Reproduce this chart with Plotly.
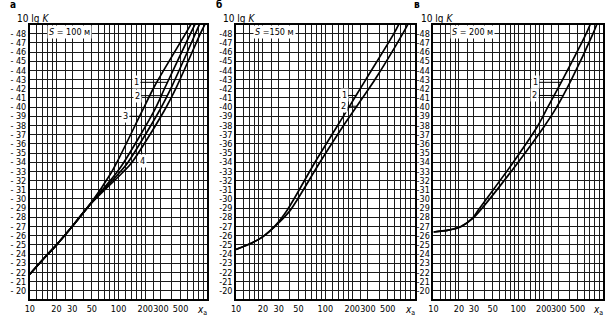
import numpy as np
import plotly.graph_objects as go

# ---------------- data ----------------
# panel а, S = 100 м : four curves (x_a, 10 lg K)
a1_x = [10, 15, 20, 30, 46.8, 94, 115, 249, 340, 646, 750]
a1_y = [21.8, 23.7, 25.0, 27.0, 29.3, 32.8, 34.0, 39.5, 42.3, 48.0, 49.3]
a2_x = [10, 15, 20, 30, 46.8, 101, 128, 284, 400, 734, 840]
a2_y = [21.8, 23.7, 25.0, 27.0, 29.3, 32.8, 34.0, 39.5, 42.3, 48.0, 49.3]
a3_x = [10, 15, 20, 30, 46.8, 82, 96, 183, 255, 568, 680]
a3_y = [21.8, 23.7, 25.0, 27.0, 29.3, 32.8, 34.0, 39.5, 42.3, 48.0, 49.3]
a4_x = [10, 15, 20, 30, 46.8, 109, 142, 322, 455, 835, 960]
a4_y = [21.8, 23.7, 25.0, 27.0, 29.3, 32.8, 34.0, 39.5, 42.3, 48.0, 49.2]

# panel б, S = 150 м
b1_x = [10, 15, 20, 27.5, 37.5, 76.6, 184, 284, 586, 680]
b1_y = [24.5, 25.2, 25.9, 27.1, 28.8, 34.0, 40.0, 43.0, 48.0, 49.2]
b2_x = [10, 15, 20, 27.5, 40, 87, 160, 360, 737, 860]
b2_y = [24.5, 25.2, 25.9, 27.05, 28.7, 34.0, 38.0, 43.0, 48.0, 49.2]

# panel в, S = 200 м
c1_x = [10, 15, 21.2, 28.9, 34.5, 87.5, 171, 223, 334, 633, 720]
c1_y = [26.4, 26.6, 27.0, 27.9, 28.9, 34.0, 38.0, 40.0, 43.0, 48.0, 49.2]
c2_x = [10, 15, 21.2, 28.9, 36, 100, 206, 284, 424, 762, 860]
c2_y = [26.4, 26.6, 27.0, 27.85, 28.8, 34.0, 38.0, 40.0, 43.0, 48.0, 49.2]

x_ticks = [10, 20, 30, 50, 100, 200, 300, 500]
x_minor = [12, 14, 16, 18, 25, 40, 60, 70, 80, 90,
           120, 140, 160, 180, 250, 400, 600, 700, 800, 900]
y_ticks = list(range(20, 49))

panels = [
    dict(letter="а", s_text="<i>S</i> = 100 м", ylab_fmt="- {}",
         curves=[("1", a1_x, a1_y), ("2", a2_x, a2_y), ("3", a3_x, a3_y), ("4", a4_x, a4_y)]),
    dict(letter="б", s_text="<i>S</i> =150 м", ylab_fmt="-{}",
         curves=[("1", b1_x, b1_y), ("2", b2_x, b2_y)]),
    dict(letter="в", s_text="<i>S</i> = 200 м", ylab_fmt="-{}",
         curves=[("1", c1_x, c1_y), ("2", c2_x, c2_y)]),
]

# ---------------- layout geometry (pixels) ----------------
W, H = 605, 322
x_dom_px = [(25, 204), (233, 413), (432, 603)]
y_top_px, y_bot_px = 24.5, 299
FONT = "Liberation Sans Narrow, DejaVu Sans Condensed, Arial Narrow, sans-serif"
INK = "#000000"

# curve labels: (panel, curve label, y on the curve, text offset px)
label_specs = [
    (0, "1", 42.7, -31, 0),
    (0, "2", 41.25, -30, 0),
    (0, "3", 39.0, -14, 0),
    (0, "4", 35.6, 1, 13),
    (1, "1", 41.27, -12, 0),
    (1, "2", 40.1, -13, 0),
    (2, "1", 42.7, -26, 0),
    (2, "2", 41.27, -28, 0),
]

fig = go.Figure()
layout = dict(
    width=W, height=H, margin=dict(l=0, r=0, t=0, b=0),
    paper_bgcolor="white", plot_bgcolor="white", showlegend=False,
    font=dict(family=FONT, color=INK, size=10),
)
annotations = []

for i, p in enumerate(panels):
    sfx = "" if i == 0 else str(i + 1)
    xa, ya = "x" + sfx, "y" + sfx
    x0, x1 = x_dom_px[i]
    layout["xaxis" + sfx] = dict(
        type="log", range=[1, 3], domain=[x0 / W, x1 / W], anchor=ya,
        tickmode="array", tickvals=x_ticks, ticktext=[str(v) for v in x_ticks],
        tickangle=0,
        showgrid=True, gridcolor="#1a1a1a", gridwidth=1.3,
        minor=dict(tickmode="array", tickvals=x_minor, showgrid=True,
                   gridcolor="#1a1a1a", gridwidth=1.1, ticks=""),
        showline=True, mirror=True, linecolor=INK, linewidth=1.6,
        ticks="", tickfont=dict(size=9, family=FONT, color=INK),
        zeroline=False, fixedrange=True,
    )
    layout["yaxis" + sfx] = dict(
        range=[19.1, 49.0], domain=[1 - y_bot_px / H, 1 - y_top_px / H], anchor=xa,
        tickmode="array", tickvals=y_ticks,
        ticktext=[p["ylab_fmt"].format(v) for v in y_ticks],
        showgrid=True, gridcolor="#1a1a1a", gridwidth=1.2,
        showline=True, mirror=True, linecolor=INK, linewidth=1.6,
        ticks="", tickfont=dict(size=9, family=FONT, color=INK),
        zeroline=False, fixedrange=True,
    )
    for name, xs, ys in p["curves"]:
        fig.add_trace(go.Scatter(
            x=xs, y=ys, xaxis=xa, yaxis=ya, mode="lines",
            line=dict(color=INK, width=1.7, shape="spline", smoothing=0.8),
            name=name, hoverinfo="skip",
        ))

    # panel letter and ordinate title
    annotations.append(dict(
        xref="paper", yref="paper", x=(x0 - 17) / W, y=1 - 5 / H,
        text="<b>%s</b>" % p["letter"], showarrow=False,
        xanchor="center", yanchor="middle", font=dict(size=10, family=FONT, color=INK)))
    annotations.append(dict(
        xref="paper", yref="paper", x=(x0 - 15) / W, y=1 - 19 / H,
        text="10 lg <i>K</i>", showarrow=False,
        xanchor="left", yanchor="middle", font=dict(size=10, family=FONT, color=INK)))
    # S box in upper left corner of the grid
    annotations.append(dict(
        xref="paper", yref="paper", x=(x0 + 17) / W, y=1 - (y_top_px + 1) / H,
        text=p["s_text"], showarrow=False, bgcolor="white", borderpad=1,
        xanchor="left", yanchor="top", font=dict(size=9, family=FONT, color=INK)))
    # abscissa name at the end of the axis
    annotations.append(dict(
        xref="paper", yref="paper", x=(x1 - 5) / W, y=1 - 310 / H,
        text="<i>x</i><sub>a</sub>", showarrow=False,
        xanchor="center", yanchor="middle", font=dict(size=10, family=FONT, color=INK)))

# curve number labels with leader lines
for pi, lab, y_at, ax, ay in label_specs:
    sfx = "" if pi == 0 else str(pi + 1)
    for name, xs, ys in panels[pi]["curves"]:
        if name == lab:
            lx = float(np.interp(y_at, ys, np.log10(xs)))
            annotations.append(dict(
                xref="x" + sfx, yref="y" + sfx, x=lx, y=y_at, text=lab,
                showarrow=True, arrowhead=0, arrowwidth=1, arrowcolor=INK,
                ax=ax, ay=ay, standoff=0, bgcolor="white",
                font=dict(size=9, family=FONT, color=INK)))

layout["annotations"] = annotations
fig.update_layout(**layout)
fig.write_html("out.html")
